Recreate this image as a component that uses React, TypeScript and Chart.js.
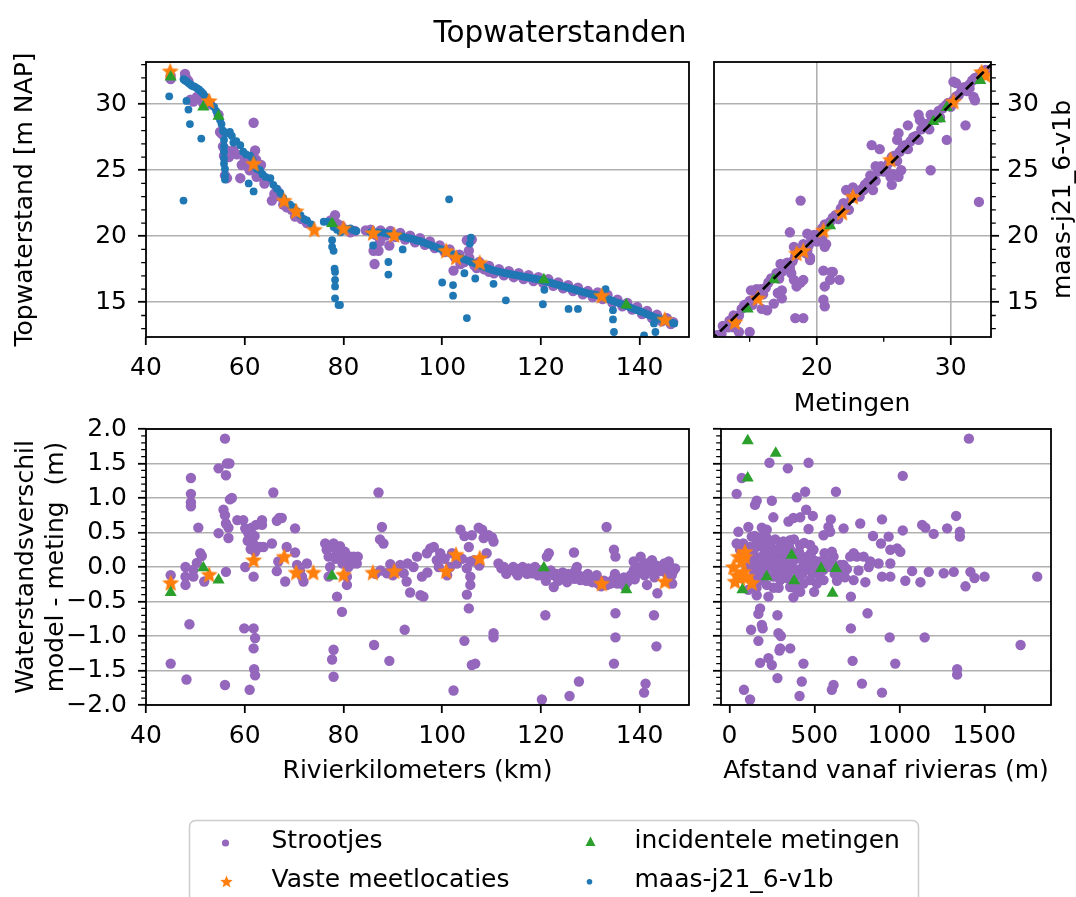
import React, { useEffect, useRef } from 'react';
import { Chart, registerables } from 'chart.js';
Chart.register(...registerables);

type Pt = [number, number];

const FONT = '"DejaVu Sans", sans-serif';
const PURPLE = '#9467bd';
const ORANGE = '#ff7f0e';
const GREEN = '#2ca02c';
const BLUE = '#1f77b4';

const TITLE = 'Topwaterstanden';
const Y_TOP_LABEL = 'Topwaterstand [m NAP]';
const Y_RIGHT_LABEL = 'maas-j21_6-v1b';
const X_QQ_LABEL = 'Metingen';
const Y_DIFF_LABEL = ['Waterstandsverschil', 'model - meting  (m)'];
const X_KM_LABEL = 'Rivierkilometers (km)';
const X_DIST_LABEL = 'Afstand vanaf rivieras (m)';
const LEGEND_LABELS = ['Strootjes', 'Vaste meetlocaties', 'incidentele metingen', 'maas-j21_6-v1b'];

// ---------- tick values ----------
const kmTicks = [40, 60, 80, 100, 120, 140];
const levelTicks = [15, 20, 25, 30];
const levelMinor = [13, 14, 16, 17, 18, 19, 21, 22, 23, 24, 26, 27, 28, 29, 31, 32, 33];
const qqXTicks = [20, 30];
const qqXMinor = [15, 25];
const diffTicks = [-2, -1.5, -1, -0.5, 0, 0.5, 1, 1.5, 2];
const diffMinor = [-1.9, -1.8, -1.7, -1.6, -1.4, -1.3, -1.2, -1.1, -0.9, -0.8, -0.7, -0.6, -0.4, -0.3, -0.2, -0.1, 0.1, 0.2, 0.3, 0.4, 0.6, 0.7, 0.8, 0.9, 1.1, 1.2, 1.3, 1.4, 1.6, 1.7, 1.8, 1.9];
const distTicks = [0, 500, 1000, 1500];

// ---------- panel 1: level vs river km ----------
const topStrootjes: Pt[] = [
  [45.0, 31.9], [45.0, 32.15], [47.9, 32.3], [48.2, 31.95], [48.6, 31.75], [49.0, 30.35], [49.6, 30.2], [50.3, 30.55],
  [51.0, 30.4], [51.6, 30.05], [53.0, 30.0], [54.7, 29.2], [55.0, 27.9], [55.4, 27.75], [55.8, 26.1], [56.1, 26.4],
  [56.4, 26.5], [56.4, 24.4], [56.0, 24.6], [57.0, 26.3], [57.7, 26.5], [58.4, 26.2], [59.1, 24.4], [59.4, 25.4],
  [60.0, 25.8], [60.6, 25.3], [61.8, 28.6], [62.1, 26.5], [62.3, 25.8], [62.4, 24.5], [63.0, 24.8], [63.8, 24.4],
  [64.5, 24.3], [65.5, 22.7], [66.5, 23.5], [67.1, 23.0], [68.5, 22.2], [69.5, 22.0], [70.2, 21.5], [71.5, 21.3],
  [72.6, 21.0], [77.4, 21.2], [78.3, 21.6], [78.7, 20.96], [79.5, 20.8], [80.5, 20.5], [81.4, 20.3], [82.3, 20.4],
  [55.6, 26.8], [56.8, 26.0], [61.0, 25.0], [63.3, 25.4], [64.0, 24.0], [66.0, 23.2], [67.8, 22.4],
  [84.5, 20.45], [85.5, 20.5], [86.5, 20.1], [87.5, 20.45], [88.5, 20.05], [89.5, 20.4], [90.5, 19.95], [91.5, 20.25],
  [92.5, 19.75], [93.5, 20.05], [94.5, 19.55], [95.5, 19.85], [96.5, 19.35], [97.5, 19.6], [98.5, 19.1], [99.5, 19.3],
  [100.5, 18.8], [101.5, 19.0], [102.5, 18.45], [103.5, 18.6], [104.5, 18.05], [105.5, 18.35], [106.5, 17.8], [107.5, 18.05],
  [108.5, 17.5], [109.5, 17.75], [110.5, 17.2], [111.5, 17.5], [112.5, 17.05], [113.5, 17.35], [114.5, 16.9], [115.5, 17.2],
  [116.5, 16.75], [117.5, 17.05], [118.5, 16.6], [119.5, 16.9], [120.5, 16.45], [121.5, 16.75], [122.5, 16.25], [123.5, 16.5],
  [124.5, 16.05], [125.5, 16.3], [126.5, 15.85], [127.5, 16.1], [128.5, 15.6], [129.5, 15.85], [130.5, 15.4], [131.5, 15.75],
  [132.5, 15.25], [133.5, 15.55], [134.5, 14.95], [135.5, 15.2], [136.5, 14.7], [137.5, 14.95], [138.5, 14.45], [139.5, 14.65],
  [140.5, 14.1], [141.5, 14.35], [142.5, 13.8], [143.5, 14.05], [144.5, 13.55], [145.5, 13.8], [146.3, 13.35], [146.8, 13.5],
  [86.1, 18.9], [87.1, 18.9], [86.3, 17.9], [89.3, 19.3], [87.4, 19.6], [105.0, 19.7], [106.0, 19.75], [105.4, 18.9],
  [102.3, 17.4], [103.7, 17.9], [107.0, 17.6], [109.5, 17.3],
];
const topVaste: Pt[] = [
  [44.9, 32.5], [52.8, 30.25], [61.8, 25.5], [68.0, 22.7], [70.4, 21.9], [74.1, 20.5], [80.0, 20.6], [86.0, 20.25],
  [90.3, 20.1], [100.8, 18.9], [102.8, 18.4], [107.6, 18.0], [132.3, 15.5], [145.1, 13.7],
];
const topIncidenteel: Pt[] = [
  [45.0, 32.07], [51.6, 29.8], [54.7, 29.1], [77.7, 20.96], [120.6, 16.7], [137.3, 14.8],
];
const topModel: Pt[] = [
  [44.7, 30.6], [47.6, 31.9], [47.9, 31.8], [48.2, 31.75], [48.6, 31.6], [49.0, 31.5], [49.3, 31.4], [49.7, 31.35],
  [50.0, 31.3], [50.4, 31.2], [50.8, 31.1], [51.2, 30.95], [51.6, 30.8], [52.0, 30.6], [52.3, 30.5], [53.8, 29.8],
  [54.2, 29.5], [54.6, 29.1], [55.0, 28.8], [55.3, 28.5], [55.6, 28.0], [55.8, 27.9], [55.8, 27.3], [55.8, 26.8],
  [55.8, 26.4], [55.8, 25.9], [55.8, 25.5], [56.0, 25.1], [56.0, 24.6], [56.0, 24.3], [56.5, 27.8], [57.0, 27.9],
  [57.4, 27.6], [57.7, 27.1], [58.3, 27.2], [59.1, 26.9], [59.7, 26.4], [60.3, 26.2], [61.1, 26.1], [61.6, 25.8],
  [62.0, 25.3], [62.5, 25.1], [63.1, 25.0], [63.6, 24.7], [64.2, 24.5], [65.2, 24.4], [65.8, 23.9], [66.5, 23.6],
  [67.2, 23.3], [67.8, 22.9], [68.5, 22.6], [69.2, 22.4], [69.9, 22.2], [70.6, 21.9], [71.3, 21.6], [72.0, 21.3],
  [72.6, 21.2], [73.5, 20.9], [76.0, 21.1], [76.8, 21.1], [77.4, 21.0], [78.0, 20.7], [78.7, 20.5], [79.4, 20.3],
  [80.0, 20.5], [80.7, 20.55], [81.4, 20.6], [82.0, 20.45], [82.6, 20.4],
  [48.2, 30.25], [48.6, 29.6], [48.9, 28.5], [51.2, 27.4], [47.6, 22.7], [60.8, 24.0], [61.8, 23.4], [53.0, 30.1],
  [77.7, 19.7], [77.7, 19.2], [78.0, 18.9], [78.2, 17.55], [78.3, 17.3], [78.3, 16.7], [78.3, 16.2], [78.3, 15.3], [79.0, 14.8],
  [85.5, 20.3], [86.2, 20.3], [87.0, 20.3], [87.7, 20.28], [88.4, 20.25], [89.1, 20.2], [89.8, 20.15], [90.5, 20.1],
  [91.2, 20.05], [91.9, 20.0], [92.6, 19.9], [93.3, 19.85], [94.0, 19.8], [94.7, 19.7], [95.4, 19.65], [96.1, 19.55],
  [96.8, 19.45], [97.5, 19.35], [98.2, 19.25], [98.9, 19.15], [99.6, 19.05], [100.3, 18.95], [101.0, 18.85], [101.7, 18.7],
  [102.4, 18.6], [103.1, 18.45], [103.8, 18.35], [104.5, 18.25], [105.2, 18.15], [105.9, 18.05], [106.6, 17.95], [107.3, 17.85],
  [108.0, 17.75], [108.7, 17.65], [109.4, 17.55], [110.1, 17.45], [110.8, 17.38], [111.5, 17.32], [112.2, 17.25], [112.9, 17.2],
  [113.6, 17.15], [114.3, 17.1], [115.0, 17.05], [115.7, 17.0], [116.4, 16.95], [117.1, 16.9], [117.8, 16.85], [118.5, 16.8],
  [119.2, 16.75], [119.9, 16.7], [120.6, 16.62], [121.3, 16.55], [122.0, 16.48], [122.7, 16.4], [123.4, 16.32], [124.1, 16.25],
  [124.8, 16.18], [125.5, 16.1], [126.2, 16.03], [126.9, 15.95], [127.6, 15.88], [128.3, 15.8], [129.0, 15.73], [129.7, 15.66],
  [130.4, 15.6], [131.1, 15.55], [131.8, 15.5], [132.5, 15.42], [133.2, 15.3], [133.9, 15.2], [134.6, 15.1], [135.3, 15.0],
  [136.0, 14.92], [136.7, 14.82], [137.4, 14.72], [138.1, 14.6], [138.8, 14.5], [139.5, 14.4], [140.2, 14.3], [140.9, 14.2],
  [141.6, 14.08], [142.3, 13.98], [143.0, 13.88], [143.7, 13.8], [144.4, 13.7], [145.1, 13.62], [145.8, 13.55], [146.5, 13.45],
  [147.0, 13.4],
  [86.0, 19.3], [89.1, 18.05], [89.1, 17.1], [92.0, 19.0], [100.0, 16.5], [102.2, 16.3], [102.2, 15.5], [101.4, 22.8],
  [104.5, 17.2], [105.0, 13.8], [105.6, 19.45], [105.8, 19.9], [106.7, 16.8], [110.4, 16.4], [112.9, 15.15], [120.4, 14.85],
  [120.7, 15.95], [125.6, 14.5], [127.5, 14.5], [133.1, 16.0], [134.6, 14.4], [134.6, 13.7], [134.8, 12.75], [140.9, 12.5],
  [142.9, 13.4], [143.2, 12.75], [79.3, 14.8],
];

// ---------- panel 2: model vs measurement ----------
const qqStrootjes: Pt[] = [
  [12.6, 12.5], [13.0, 13.2], [13.4, 13.1], [13.8, 14.0], [14.2, 14.0], [14.6, 14.8], [15.0, 15.1], [15.4, 15.3],
  [15.8, 16.0], [16.2, 16.1], [16.6, 16.8], [17.0, 17.2], [17.4, 17.3], [17.8, 18.0], [18.2, 18.1], [18.6, 18.8],
  [19.0, 19.1], [19.4, 19.3], [19.8, 20.1], [20.2, 20.2], [20.6, 20.9], [21.0, 21.1], [21.4, 21.6], [21.8, 22.1],
  [22.2, 22.3], [22.6, 22.9], [23.0, 23.3], [23.4, 23.6], [23.8, 24.1], [24.2, 24.4], [24.6, 24.9], [25.0, 25.2],
  [25.4, 25.6], [25.8, 26.1], [26.2, 26.4], [26.6, 26.9], [27.0, 27.2], [27.4, 27.6], [27.8, 28.1], [28.2, 28.5],
  [28.6, 28.8], [29.0, 29.3], [29.4, 29.7], [29.8, 30.1], [30.2, 30.3], [30.6, 30.7], [31.0, 31.3], [31.4, 31.5],
  [31.8, 32.0], [32.2, 32.3], [32.6, 32.6],
  [12.9, 12.6], [13.5, 13.6], [14.0, 13.6], [14.4, 14.5], [15.2, 14.8], [15.6, 15.7], [16.0, 15.6], [16.4, 16.5],
  [17.2, 16.8], [17.6, 17.7], [18.0, 17.6], [18.4, 18.5], [19.2, 18.7], [19.6, 19.8], [20.0, 19.9], [20.4, 20.6],
  [21.2, 21.4], [21.6, 21.3], [22.0, 22.5], [22.4, 22.0], [23.2, 23.0], [23.6, 23.9], [24.0, 24.6], [24.4, 24.2],
  [24.8, 25.3], [25.2, 25.0], [25.6, 26.0], [26.0, 25.7], [26.4, 26.7], [26.8, 26.6], [27.2, 27.5], [27.6, 27.3],
  [28.0, 28.3], [28.4, 28.1], [29.2, 29.0], [29.6, 29.9], [30.0, 29.8], [30.4, 30.6], [30.8, 31.0], [31.2, 31.0],
  [31.6, 31.8], [32.0, 31.9], [32.4, 32.5],
  [13.8, 13.1], [14.2, 12.75], [15.0, 12.75], [15.1, 15.9], [15.5, 16.0], [15.9, 14.5], [16.3, 14.4], [16.8, 14.9],
  [17.1, 15.7], [17.4, 15.9], [17.4, 15.3], [17.3, 17.9], [17.8, 17.9], [18.0, 20.3], [18.3, 19.2], [18.1, 17.2],
  [18.3, 16.7], [18.5, 16.2], [18.8, 16.5], [19.0, 16.7], [18.4, 13.8], [19.0, 13.8], [18.8, 22.7], [19.0, 19.4],
  [19.3, 18.9], [19.5, 18.4], [19.3, 20.2], [20.0, 19.6], [20.4, 19.8], [20.6, 19.2], [20.7, 19.4], [20.5, 17.4],
  [21.1, 17.3], [21.0, 16.7], [21.2, 17.3], [21.7, 16.7], [20.6, 16.2], [20.5, 15.2], [20.6, 14.7], [19.5, 18.2],
  [24.1, 26.9], [24.7, 26.6], [24.2, 23.5], [24.4, 25.3], [25.0, 24.9], [25.2, 25.3], [25.5, 24.5], [25.7, 24.7],
  [26.1, 24.5], [26.3, 25.0], [25.6, 23.9], [26.0, 27.3], [26.1, 27.8], [26.8, 28.4], [27.6, 29.2], [27.7, 28.8],
  [28.5, 25.0], [29.7, 27.3], [31.1, 28.4], [31.7, 30.55], [31.8, 30.3], [32.1, 22.6], [30.2, 31.7], [30.4, 31.6],
  [30.9, 31.1], [31.4, 31.2], [29.1, 29.5], [28.5, 29.2], [22.2, 22.1], [21.5, 21.5], [22.2, 23.5], [22.7, 23.7],
  [23.0, 23.2], [23.5, 23.5],
];
const qqVaste: Pt[] = [
  [13.9, 13.5], [15.6, 15.3], [18.5, 18.7], [19.0, 18.9], [20.5, 20.45], [21.9, 21.8], [22.7, 23.0], [25.5, 25.8],
  [30.2, 30.2], [32.3, 32.45], [32.6, 32.2],
];
const qqIncidenteel: Pt[] = [
  [14.85, 14.5], [16.8, 16.7], [21.0, 20.8], [28.7, 28.7], [29.2, 28.9], [29.7, 29.75], [32.2, 31.8],
];
const identityLine: Pt[] = [[12, 12], [34, 34]];

// ---------- panel 3: difference vs river km ----------
const kmDiffStrootjes: Pt[] = [
  [45.0, -0.12], [45.0, -1.4], [48.0, 0.0], [48.0, -0.14], [48.0, -0.26], [48.2, -1.63], [48.8, -0.83], [49.1, 1.29],
  [49.1, 1.06], [49.1, 0.94], [49.1, 0.88], [49.6, -0.04], [49.6, -0.14], [50.6, 0.57], [50.3, 0.06], [51.0, 0.2],
  [51.3, 0.16], [51.8, -0.21], [54.7, 0.49], [54.7, 1.43], [56.0, 1.86], [56.2, 1.33], [56.4, 1.5], [56.9, 1.5],
  [55.7, 0.83], [56.0, 0.75], [56.2, 0.63], [56.7, 0.57], [56.7, 0.42], [57.0, 0.98], [57.4, 1.0], [56.2, -0.07],
  [56.0, -1.71], [58.5, 0.68], [59.7, 0.68], [60.1, 0.56], [60.4, 0.53], [60.8, 0.48], [61.4, 0.57], [61.6, 0.42],
  [61.9, 0.32], [62.1, 0.22], [62.3, 0.61], [61.2, 0.26], [61.8, -0.14], [60.1, 0.0], [59.9, -0.89], [61.8, -0.89],
  [62.1, -1.03], [61.8, -1.18], [61.9, -1.48], [62.1, -1.57], [61.0, -1.78], [63.5, 0.68], [63.5, 0.61], [63.1, 0.29],
  [63.8, 0.29], [65.8, 1.08], [65.5, 0.34], [66.5, 0.67], [67.0, 0.71], [67.5, 0.71], [66.8, 0.08], [66.5, -0.06],
  [68.5, 0.29], [68.2, -0.21], [70.2, 0.56], [70.2, 0.21], [70.6, 0.03], [71.2, -0.05], [71.6, -0.14], [71.9, -0.21],
  [72.6, 0.05], [76.3, 0.34], [76.6, 0.25], [77.0, 0.15], [77.6, 0.3], [78.0, 0.34], [78.3, 0.27], [78.7, 0.2],
  [79.0, 0.24], [79.4, 0.15], [80.0, 0.13], [80.7, 0.15], [81.4, 0.1], [82.1, 0.15], [82.7, 0.05], [80.7, -0.14],
  [80.7, -0.26], [78.0, -1.2], [77.7, -1.34], [78.0, -1.59], [78.7, -0.43], [79.7, -0.65], [77.3, 0.0], [77.0, -0.14],
  [61.0, 0.5], [62.0, 0.45], [60.6, 0.38], [79.3, 0.3], [80.3, 0.22], [81.8, 0.05], [82.4, 0.1], [79.8, 0.05],
  [78.4, 0.12], [81.0, 0.0], [82.9, 0.15],
  [81.4, 0.15], [87.1, 1.08], [87.8, 0.58], [87.4, 0.4], [88.1, 0.34], [88.8, -0.09], [89.5, 0.04], [91.5, 0.03],
  [92.2, -0.09], [92.8, -0.21], [93.5, -0.37], [94.2, 0.0], [94.9, 0.15], [95.6, -0.41], [96.2, -0.43], [95.9, -0.14],
  [96.9, 0.2], [97.6, 0.27], [98.3, 0.29], [98.9, 0.1], [99.6, 0.2], [99.3, 0.0], [86.2, -1.13], [89.3, -1.36],
  [92.4, -0.91], [102.3, -1.79], [101.6, 0.0], [103.7, 0.54], [104.5, 0.45], [105.4, 0.29], [106.0, 0.46], [105.7, 0.08],
  [105.0, -0.02], [105.7, -0.14], [105.7, -0.26], [105.0, -0.4], [105.4, -0.6], [104.5, -1.07], [106.0, -1.42], [106.7, -1.4],
  [107.4, 0.57], [108.1, 0.54], [108.4, 0.42], [109.4, 0.46], [110.1, 0.43], [110.4, 0.37], [110.4, -0.96], [110.4, -1.02],
  [86.5, -0.1], [87.5, -0.05], [90.0, -0.12], [91.0, -0.06], [93.0, 0.05], [97.0, -0.08], [100.5, 0.12], [102.0, 0.2],
  [103.0, 0.05], [104.0, 0.12], [106.5, 0.1], [107.5, 0.02], [109.0, 0.2], [101.0, -0.12],
  [111.4, 0.05], [112.0, -0.02], [112.5, 0.0], [113.1, -0.05], [113.8, -0.04], [114.4, 0.0], [115.0, -0.08], [115.6, -0.03],
  [116.3, 0.0], [116.9, -0.06], [117.5, -0.02], [118.2, -0.09], [118.8, 0.0], [119.4, -0.12], [120.0, -0.05], [120.8, -0.15],
  [121.4, -0.08], [122.0, -0.05], [122.6, -0.12], [123.2, -0.1], [123.8, -0.15], [124.4, -0.08], [125.0, -0.16], [125.6, -0.1],
  [126.2, -0.13], [126.8, -0.17], [127.4, -0.1], [128.0, -0.19], [128.6, -0.14], [129.2, -0.2], [129.8, -0.16], [130.4, -0.22],
  [131.0, -0.18], [131.6, -0.24], [132.8, -0.2], [133.4, -0.26], [134.0, -0.22], [134.6, -0.18], [135.5, -0.24], [136.2, -0.2],
  [136.8, -0.15], [137.5, -0.22], [138.2, -0.12], [138.8, -0.05], [139.5, -0.1], [140.2, 0.0], [140.8, -0.05], [141.5, 0.05],
  [142.2, -0.02], [142.8, -0.08], [143.5, 0.02], [144.2, -0.06], [144.8, 0.0], [145.5, -0.1], [146.2, 0.0], [146.8, -0.06],
  [147.2, -0.02],
  [113.0, -0.1], [115.3, -0.12], [117.2, -0.1], [119.0, -0.05], [121.0, -0.2], [123.5, -0.2], [125.3, -0.22], [127.0, -0.05],
  [129.5, -0.1], [131.3, -0.12], [132.2, -0.28], [135.0, -0.1], [137.0, -0.28], [139.0, -0.18], [141.0, -0.12], [143.0, -0.15],
  [145.0, 0.05], [146.5, -0.12],
  [121.2, 0.15], [121.6, 0.2], [120.9, -0.7], [120.2, -1.92], [122.6, -0.29], [126.7, 0.21], [127.3, 0.0], [125.8, -1.87],
  [127.7, -1.66], [133.3, 0.58], [134.8, 0.25], [135.1, 0.15], [134.1, -0.24], [135.1, -0.67], [135.1, -1.02], [134.8, -1.4],
  [136.1, -0.19], [138.1, -0.16], [139.2, -0.04], [138.8, 0.08], [140.2, 0.15], [140.9, 0.05], [141.5, -0.07], [142.5, 0.1],
  [143.2, 0.0], [141.5, -0.26], [143.6, -0.38], [142.9, -0.7], [143.4, -1.15], [141.2, -1.69], [140.9, -1.82], [144.2, -0.04],
  [145.9, 0.08], [146.6, -0.24], [146.9, -0.04],
];
const kmDiffVaste: Pt[] = [
  [45.0, -0.23], [52.8, -0.11], [61.8, 0.1], [68.0, 0.15], [70.4, -0.08], [73.9, -0.08], [80.0, -0.11], [85.95, -0.08],
  [90.3, -0.06], [100.8, -0.06], [102.8, 0.18], [107.6, 0.13], [132.3, -0.24], [145.1, -0.21],
];
const kmDiffIncidenteel: Pt[] = [
  [45.0, -0.37], [51.6, -0.01], [54.7, -0.19], [77.7, -0.13], [120.6, -0.01], [137.3, -0.33],
];

// ---------- panel 4: difference vs distance from river axis ----------
const distDiffStrootjes: Pt[] = [
  [1409, 1.86], [1020, 1.32], [236, 1.51], [466, 1.51], [344, 1.43], [73, 1.29], [43, 1.06], [250, 0.96],
  [161, 0.96], [151, 0.9], [397, 1.01], [446, 1.09], [627, 1.09], [452, 0.83], [491, 0.74], [259, 0.72],
  [348, 0.66], [377, 0.71], [417, 0.72], [597, 0.69], [770, 0.63], [898, 0.69], [1334, 0.74], [1134, 0.61],
  [1153, 0.57], [1281, 0.56], [1356, 0.51], [1356, 0.44], [1202, 0.48], [1020, 0.53], [672, 0.56], [583, 0.58],
  [466, 0.55], [554, 0.46], [593, 0.51], [112, 0.58], [53, 0.51], [191, 0.57], [220, 0.54], [220, 0.42],
  [132, 0.44], [161, 0.37], [200, 0.29], [299, 0.29], [358, 0.25], [417, 0.32], [475, 0.32], [495, 0.25],
  [603, 0.22], [613, 0.15], [731, 0.2], [750, 0.15], [790, 0.15], [829, 0.08], [845, 0.45], [892, 0.34],
  [937, 0.44], [947, 0.25], [987, 0.27], [1006, 0.22], [878, 0.05], [947, 0.05], [1075, -0.06], [1124, -0.22],
  [1173, -0.07], [1261, -0.09], [1320, -0.07], [1389, -0.28], [1418, -0.07], [1442, -0.16], [1501, -0.14], [1811, -0.14],
  [1035, -0.2], [947, -0.14], [898, -0.14], [800, -0.22], [731, -0.19], [715, -0.43], [633, -0.2], [499, -0.36],
  [417, -0.36], [377, -0.44], [230, -0.43], [161, -0.41], [813, -0.67], [181, -0.6], [171, -0.68], [283, -0.7],
  [128, -0.91], [191, -0.84], [196, -0.89], [289, -0.96], [303, -1.0], [358, -1.18], [299, -1.18], [295, -1.21],
  [171, -1.07], [715, -0.89], [943, -1.02], [1149, -1.02], [1713, -1.13], [181, -1.39], [230, -1.32], [250, -1.42],
  [436, -1.4], [725, -1.36], [976, -1.4], [1340, -1.48], [1340, -1.56], [283, -1.61], [426, -1.66], [780, -1.69],
  [613, -1.71], [603, -1.78], [898, -1.82], [86, -1.78], [122, -1.92], [413, -1.87],
  [82, 0.34], [122, 0.29], [141, 0.2], [161, 0.1], [181, 0.0], [200, -0.04], [240, 0.0], [279, 0.05],
  [318, -0.02], [358, 0.0], [397, -0.04], [436, 0.03], [475, -0.04], [515, 0.0], [554, -0.04], [593, 0.0],
  [652, 0.03], [692, -0.03], [259, 0.15], [299, 0.13], [338, 0.2], [377, 0.1], [141, -0.14], [181, -0.19],
  [220, -0.26], [259, -0.14], [299, -0.19], [338, -0.16], [358, -0.29], [397, -0.33], [436, -0.24], [475, -0.19],
  [515, -0.24], [554, -0.19], [102, 0.0], [122, 0.05], [141, -0.04], [161, -0.24], [112, -0.33], [63, 0.25],
  [43, 0.34], [181, 0.39], [240, 0.34], [279, 0.25], [318, 0.37], [358, 0.39], [417, 0.15], [456, 0.15],
  [495, 0.1], [534, 0.08], [574, 0.08], [613, 0.03], [652, -0.08], [711, 0.15], [672, 0.03],
  [150, 0.45], [170, 0.3], [190, 0.15], [210, 0.22], [230, 0.1], [250, 0.05], [270, -0.05], [290, 0.08],
  [310, -0.1], [330, 0.05], [350, -0.08], [370, 0.0], [390, 0.12], [410, -0.12], [430, -0.1], [450, 0.05],
  [470, 0.1], [490, -0.1], [510, 0.08], [530, -0.12], [150, 0.1], [170, -0.1], [190, 0.05], [210, -0.08],
  [230, 0.25], [250, 0.2], [270, 0.4], [290, -0.3], [310, 0.3], [330, -0.05], [350, 0.3], [370, -0.2],
  [390, -0.25], [410, 0.22], [130, 0.15], [140, 0.05], [160, -0.3], [200, 0.45], [260, -0.3], [320, 0.15],
  [380, 0.4], [440, 0.35], [480, 0.2], [560, 0.2], [620, -0.1], [680, -0.15], [760, -0.05], [820, 0.0],
];
const distDiffVaste: Pt[] = [
  [53, 0.15], [92, 0.15], [73, 0.08], [43, -0.12], [82, -0.07], [63, -0.16], [33, -0.21], [132, -0.23],
  [102, -0.14], [24, 0.0], [92, 0.22],
];
const distDiffIncidenteel: Pt[] = [
  [108, 1.83], [273, 1.65], [108, 1.29], [367, 0.17], [540, -0.02], [627, -0.02], [220, -0.14], [381, -0.2],
  [607, -0.38], [77, -0.33],
];

// ---------- helpers ----------
const W = 1076;
const H = 897;

const toXY = (arr: Pt[]) => arr.map(([x, y]) => ({ x, y }));

function makeStar(r: number, color: string): HTMLCanvasElement {
  const c = document.createElement('canvas');
  const s = Math.ceil(r * 2 + 2);
  c.width = s;
  c.height = s;
  const ctx = c.getContext('2d')!;
  ctx.fillStyle = color;
  ctx.beginPath();
  for (let i = 0; i < 10; i++) {
    const rr = i % 2 === 0 ? r : r * 0.45;
    const a = -Math.PI / 2 + (i * Math.PI) / 5;
    ctx.lineTo(s / 2 + rr * Math.cos(a), s / 2 + 0.6 + rr * Math.sin(a));
  }
  ctx.closePath();
  ctx.fill();
  return c;
}

interface AxisSpec {
  min: number;
  max: number;
  ticks: number[];
  minor?: number[];
  grid: boolean;
  labels: boolean;
  pos: 'left' | 'right' | 'bottom';
  fmt?: (v: number) => string;
}
interface Area { l: number; t: number; r: number; b: number }
interface PanelSpec { area: Area; x: AxisSpec; y: AxisSpec; datasets: any[] }

const fmtInt = (v: number) => String(Math.round(v));
const fmtDiff = (v: number) => v.toFixed(1).replace('-', '\u2212');

function framePlugin(p: PanelSpec) {
  return {
    id: 'frame',
    afterDraw(chart: any) {
      const ctx = chart.ctx as CanvasRenderingContext2D;
      const { l, t, r, b } = p.area;
      ctx.save();
      ctx.strokeStyle = '#000';
      ctx.lineWidth = 1.3;
      const xs = chart.scales.x;
      const ys = chart.scales.y;
      ctx.beginPath();
      (p.x.minor || []).forEach((v) => {
        const px = xs.getPixelForValue(v);
        ctx.moveTo(px, b);
        ctx.lineTo(px, b + 4.8);
      });
      (p.y.minor || []).forEach((v) => {
        const py = ys.getPixelForValue(v);
        if (p.y.pos === 'left') {
          ctx.moveTo(l, py);
          ctx.lineTo(l - 4.8, py);
        } else {
          ctx.moveTo(r, py);
          ctx.lineTo(r + 4.8, py);
        }
      });
      ctx.stroke();
      ctx.lineWidth = 1.8;
      ctx.strokeRect(l, t, r - l, b - t);
      ctx.restore();
    },
  };
}

function rotText(ctx: CanvasRenderingContext2D, text: string, x: number, y: number) {
  ctx.save();
  ctx.translate(x, y);
  ctx.rotate(-Math.PI / 2);
  ctx.fillText(text, 0, 0);
  ctx.restore();
}

function textPlugin(star: HTMLCanvasElement) {
  return {
    id: 'texts',
    afterDraw(chart: any) {
      const ctx = chart.ctx as CanvasRenderingContext2D;
      ctx.save();
      ctx.fillStyle = '#000';
      ctx.textAlign = 'center';
      ctx.textBaseline = 'alphabetic';
      ctx.font = `29.5px ${FONT}`;
      ctx.fillText(TITLE, 560, 41.7);
      ctx.font = `25px ${FONT}`;
      rotText(ctx, Y_TOP_LABEL, 32, 199.5);
      rotText(ctx, Y_RIGHT_LABEL, 1070, 199.5);
      rotText(ctx, Y_DIFF_LABEL[0], 33, 567);
      rotText(ctx, Y_DIFF_LABEL[1], 63, 567);
      ctx.fillText(X_QQ_LABEL, 852, 410.5);
      ctx.fillText(X_KM_LABEL, 417.5, 778);
      ctx.fillText(X_DIST_LABEL, 886, 778);

      // legend
      ctx.beginPath();
      (ctx as any).roundRect(189.5, 820.5, 729, 100, 6);
      ctx.fillStyle = 'rgba(255,255,255,0.8)';
      ctx.fill();
      ctx.strokeStyle = '#cccccc';
      ctx.lineWidth = 1.5;
      ctx.stroke();

      ctx.fillStyle = PURPLE;
      ctx.beginPath();
      ctx.arc(225.5, 843, 3.6, 0, Math.PI * 2);
      ctx.fill();
      ctx.drawImage(star, 226.5 - star.width / 2, 881.5 - star.height / 2);
      ctx.fillStyle = GREEN;
      ctx.beginPath();
      ctx.moveTo(590.5, 836.5);
      ctx.lineTo(595.5, 846);
      ctx.lineTo(585.5, 846);
      ctx.closePath();
      ctx.fill();
      ctx.fillStyle = BLUE;
      ctx.beginPath();
      ctx.arc(589.5, 881.7, 2.8, 0, Math.PI * 2);
      ctx.fill();

      ctx.fillStyle = '#000';
      ctx.textAlign = 'left';
      ctx.font = `25px ${FONT}`;
      ctx.fillText(LEGEND_LABELS[0], 271.5, 848.3);
      ctx.fillText(LEGEND_LABELS[1], 271.5, 886.7);
      ctx.fillText(LEGEND_LABELS[2], 634.5, 848.3);
      ctx.fillText(LEGEND_LABELS[3], 634.5, 886.7);
      ctx.restore();
    },
  };
}

function buildConfig(p: PanelSpec, extra: any[]): any {
  const axis = (a: AxisSpec, isX: boolean) => ({
    type: 'linear',
    position: a.pos,
    min: a.min,
    max: a.max,
    afterBuildTicks: (s: any) => {
      s.ticks = a.ticks.map((v) => ({ value: v }));
    },
    afterFit: (s: any) => {
      if (isX) s.height = H - p.area.b;
      else s.width = a.pos === 'left' ? p.area.l : W - p.area.r;
    },
    ticks: {
      autoSkip: false,
      maxRotation: 0,
      minRotation: 0,
      color: '#000',
      font: { family: FONT, size: 25 },
      padding: isX ? 8 : a.pos === 'left' ? 11 : 8,
      callback: (v: any) => (a.labels ? (a.fmt ? a.fmt(Number(v)) : fmtInt(Number(v))) : ''),
    },
    grid: {
      display: true,
      drawOnChartArea: a.grid,
      color: '#b0b0b0',
      lineWidth: 1.6,
      drawTicks: true,
      tickLength: 8,
      tickColor: '#000',
      tickWidth: 1.8,
    },
    border: { display: false },
  });
  return {
    type: 'scatter',
    data: { datasets: p.datasets },
    options: {
      responsive: false,
      animation: false,
      devicePixelRatio: 1,
      events: [],
      layout: {
        padding: {
          left: p.y.pos === 'left' ? 0 : p.area.l,
          right: p.y.pos === 'right' ? 0 : W - p.area.r,
          top: p.area.t,
          bottom: 0,
        },
      },
      plugins: { legend: { display: false }, tooltip: { enabled: false }, title: { display: false } },
      scales: { x: axis(p.x, true), y: axis(p.y, false) },
    },
    plugins: [framePlugin(p), ...extra],
  };
}

export default function App() {
  const r0 = useRef<HTMLCanvasElement>(null);
  const r1 = useRef<HTMLCanvasElement>(null);
  const r2 = useRef<HTMLCanvasElement>(null);
  const r3 = useRef<HTMLCanvasElement>(null);

  useEffect(() => {
    const star = makeStar(9, ORANGE);
    const legendStar = makeStar(6.5, ORANGE);
    const purple = (d: Pt[]) => ({ data: toXY(d), backgroundColor: PURPLE, borderWidth: 0, pointRadius: 5.2, order: 3, clip: 0 });
    const blue = (d: Pt[]) => ({ data: toXY(d), backgroundColor: BLUE, borderWidth: 0, pointRadius: 3.9, order: 2, clip: 0 });
    const orange = (d: Pt[]) => ({ data: toXY(d), pointStyle: star, pointRadius: 9, order: 1, clip: 0 });
    const green = (d: Pt[]) => ({ data: toXY(d), backgroundColor: GREEN, borderWidth: 0, pointStyle: 'triangle', pointRadius: 7, order: 0, clip: 0 });

    const panels: PanelSpec[] = [
      {
        area: { l: 146, t: 62, r: 689, b: 337 },
        x: { min: 40, max: 150, ticks: kmTicks, grid: false, labels: true, pos: 'bottom' },
        y: { min: 12.37, max: 33.2, ticks: levelTicks, minor: levelMinor, grid: true, labels: true, pos: 'left' },
        datasets: [purple(topStrootjes), blue(topModel), orange(topVaste), green(topIncidenteel)],
      },
      {
        area: { l: 714, t: 62, r: 991, b: 337 },
        x: { min: 12.34, max: 33.0, ticks: qqXTicks, minor: qqXMinor, grid: true, labels: true, pos: 'bottom' },
        y: { min: 12.37, max: 33.2, ticks: levelTicks, minor: levelMinor, grid: true, labels: true, pos: 'right' },
        datasets: [
          purple(qqStrootjes),
          orange(qqVaste),
          green(qqIncidenteel),
          { data: toXY(identityLine), showLine: true, borderColor: '#000', borderWidth: 2.6, borderDash: [10, 5], pointRadius: 0, order: -1, clip: 0 },
        ],
      },
      {
        area: { l: 146, t: 429, r: 689, b: 705 },
        x: { min: 40, max: 150, ticks: kmTicks, grid: false, labels: true, pos: 'bottom' },
        y: { min: -2, max: 2, ticks: diffTicks, minor: diffMinor, grid: true, labels: true, pos: 'left', fmt: fmtDiff },
        datasets: [purple(kmDiffStrootjes), orange(kmDiffVaste), green(kmDiffIncidenteel)],
      },
      {
        area: { l: 721, t: 429, r: 1051, b: 705 },
        x: { min: -49, max: 1892, ticks: distTicks, grid: false, labels: true, pos: 'bottom' },
        y: { min: -2, max: 2, ticks: diffTicks, minor: diffMinor, grid: true, labels: false, pos: 'left' },
        datasets: [purple(distDiffStrootjes), orange(distDiffVaste), green(distDiffIncidenteel)],
      },
    ];
    const refs = [r0, r1, r2, r3];
    const charts = panels.map((p, i) => new Chart(refs[i].current!, buildConfig(p, i === 0 ? [textPlugin(legendStar)] : [])));
    return () => charts.forEach((c) => c.destroy());
  }, []);

  const cs: React.CSSProperties = { position: 'absolute', left: 0, top: 0, width: W, height: H };
  return (
    <div style={{ position: 'absolute', left: 0, top: 0, width: W, height: H, background: '#fff', overflow: 'hidden' }}>
      <canvas ref={r0} width={W} height={H} style={cs} />
      <canvas ref={r1} width={W} height={H} style={cs} />
      <canvas ref={r2} width={W} height={H} style={cs} />
      <canvas ref={r3} width={W} height={H} style={cs} />
    </div>
  );
}
